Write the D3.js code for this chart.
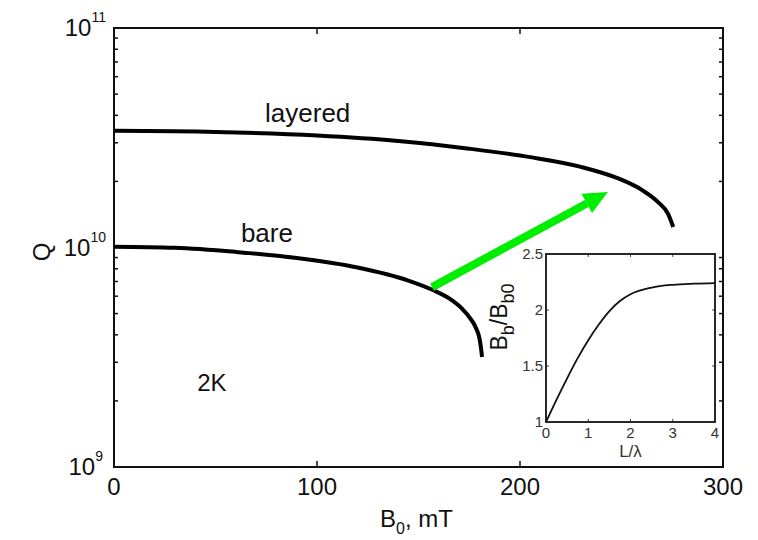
<!DOCTYPE html>
<html>
<head>
<meta charset="utf-8">
<script src="https://cdn.jsdelivr.net/npm/d3@7"></script>
<style>
  body { margin: 0; background: #fff; }
  text { font-family: "Liberation Sans", Arial, sans-serif; fill: #111; }
</style>
</head>
<body>
<div id="body"></div>
<script>
// main plot data: B0 (mT) vs Q
var layeredB = [0, 50, 100, 140, 175, 205, 230, 248, 260, 268, 273, 275.5];
var layeredQ = [3.40e10, 3.36e10, 3.24e10, 3.06e10, 2.82e10, 2.58e10, 2.33e10, 2.07e10, 1.83e10, 1.61e10, 1.42e10, 1.24e10];
var bareB = [0, 30, 60, 90, 120, 145, 157.1, 165.5, 171.4, 175.4, 178.3, 180.0, 180.8, 181.3];
var bareQ = [1.008e10, 9.97e9, 9.55e9, 8.96e9, 8.11e9, 7.07e9, 6.40e9, 5.83e9, 5.27e9, 4.77e9, 4.30e9, 3.87e9, 3.48e9, 3.17e9];
var xTicks = [0, 100, 200, 300];
var yExp = [9, 10, 11];

// inset data: Bb/Bb0 vs L/lambda
var insetL = [0, 0.25, 0.5, 0.75, 1.0, 1.25, 1.5, 1.75, 2.0, 2.5, 3.0, 3.5, 4.0];
var insetR = [1.0, 1.2, 1.39, 1.57, 1.73, 1.87, 1.99, 2.08, 2.14, 2.20, 2.225, 2.235, 2.24];
var insetXTicks = [0, 1, 2, 3, 4];
var insetYTicks = [1, 1.5, 2, 2.5];

// arrow annotation (data coords)
var arrowFrom = [156.7, 6.6e9], arrowTo = [243.3, 1.79e10];

var W = 758, H = 540;
var margin = {top: 28, right: 35, bottom: 73, left: 114},
    width = W - margin.left - margin.right,
    height = H - margin.top - margin.bottom;

var svg = d3.select("#body").append("svg")
    .attr("width", W).attr("height", H);
var g = svg.append("g")
    .attr("transform", "translate(" + margin.left + "," + margin.top + ")");

var x = d3.scaleLinear().domain([0, 300]).range([0, width]);
var y = d3.scaleLog().domain([1e9, 1e11]).range([height, 0]);

// minor log ticks, inward on left and right
var minor = [];
[1e9, 1e10].forEach(function(b) { for (var k = 2; k <= 9; k++) minor.push(b * k); });
g.selectAll(".mtl").data(minor).enter().append("line")
    .attr("x1", 0).attr("x2", 4)
    .attr("y1", d => y(d)).attr("y2", d => y(d))
    .attr("stroke", "#111").attr("stroke-width", 1.5);
g.selectAll(".mtr").data(minor).enter().append("line")
    .attr("x1", width).attr("x2", width - 4)
    .attr("y1", d => y(d)).attr("y2", d => y(d))
    .attr("stroke", "#111").attr("stroke-width", 1.5);
// x ticks inward top and bottom
g.selectAll(".xtb").data(xTicks.slice(1, 3)).enter().append("line")
    .attr("x1", d => x(d)).attr("x2", d => x(d))
    .attr("y1", height).attr("y2", height - 6)
    .attr("stroke", "#111").attr("stroke-width", 1.5);
g.selectAll(".xtt").data(xTicks.slice(1, 3)).enter().append("line")
    .attr("x1", d => x(d)).attr("x2", d => x(d))
    .attr("y1", 0).attr("y2", 6)
    .attr("stroke", "#111").attr("stroke-width", 1.5);

// frame
g.append("rect").attr("width", width).attr("height", height)
    .attr("fill", "none").attr("stroke", "#111").attr("stroke-width", 2);

// tick labels
g.selectAll(".xl").data(xTicks).enter().append("text")
    .attr("x", d => x(d)).attr("y", height + 28)
    .attr("text-anchor", "middle").style("font-size", "24px")
    .text(d => d);

var yl = g.selectAll(".yl").data(yExp).enter().append("text")
    .attr("x", d => d == 9 ? -11 : -8)
    .attr("y", d => y(Math.pow(10, d)) + 8)
    .attr("text-anchor", "end").style("font-size", "24px");
yl.append("tspan").text("10");
yl.append("tspan").attr("dy", -14).style("font-size", "14px").text(d => d);

// axis labels
var xlab = svg.append("text").attr("x", 380).attr("y", 527).style("font-size", "24px");
xlab.append("tspan").text("B");
xlab.append("tspan").attr("dy", 7).style("font-size", "16px").text("0");
xlab.append("tspan").attr("dy", -7).text(", mT");

svg.append("text").attr("transform", "translate(50,252) rotate(-90)")
    .attr("text-anchor", "middle").style("font-size", "24px").text("Q");

// curves
var line = d3.line()
    .x(d => x(d[0])).y(d => y(d[1]))
    .curve(d3.curveMonotoneX);
g.append("path").datum(d3.zip(layeredB, layeredQ))
    .attr("d", line).attr("fill", "none").attr("stroke", "#000").attr("stroke-width", 4);
g.append("path").datum(d3.zip(bareB, bareQ))
    .attr("d", line).attr("fill", "none").attr("stroke", "#000").attr("stroke-width", 4);

// curve labels
g.append("text").attr("x", x(74.4)).attr("y", y(3.73e10))
    .style("font-size", "26px").text("layered");
g.append("text").attr("x", x(62.5)).attr("y", y(1.06e10))
    .style("font-size", "26px").text("bare");
g.append("text").attr("x", x(41)).attr("y", y(2.23e9))
    .style("font-size", "24px").text("2K");

// green arrow
var ax1 = x(arrowFrom[0]), ay1 = y(arrowFrom[1]),
    ax2 = x(arrowTo[0]), ay2 = y(arrowTo[1]);
var ang = Math.atan2(ay2 - ay1, ax2 - ax1), hl = 24, hw = 11;
var bx = ax2 - hl * Math.cos(ang), by = ay2 - hl * Math.sin(ang);
g.append("line").attr("x1", ax1).attr("y1", ay1).attr("x2", bx).attr("y2", by)
    .attr("stroke", "#00ee00").attr("stroke-width", 8);
g.append("path")
    .attr("d", "M" + ax2 + "," + ay2 +
        "L" + (bx + hw * Math.sin(ang)) + "," + (by - hw * Math.cos(ang)) +
        "L" + (bx - hw * Math.sin(ang)) + "," + (by + hw * Math.cos(ang)) + "Z")
    .attr("fill", "#00ee00");

// inset
var ins = {left: 546, top: 254, w: 169, h: 168};
var gi = svg.append("g").attr("transform", "translate(" + ins.left + "," + ins.top + ")");
var xi = d3.scaleLinear().domain([0, 4]).range([0, ins.w]);
var yi = d3.scaleLinear().domain([1, 2.5]).range([ins.h, 0]);

gi.append("rect").attr("x", -ins.left + 520).attr("y", -6).attr("width", ins.w + 30).attr("height", ins.h + 10)
    .attr("fill", "#fff");
gi.selectAll(".ixt").data(insetXTicks.slice(1, 4)).enter().append("line")
    .attr("x1", d => xi(d)).attr("x2", d => xi(d)).attr("y1", 0).attr("y2", 3)
    .attr("stroke", "#444").attr("stroke-width", 1);
gi.selectAll(".ixb").data(insetXTicks.slice(1, 4)).enter().append("line")
    .attr("x1", d => xi(d)).attr("x2", d => xi(d)).attr("y1", ins.h).attr("y2", ins.h - 3)
    .attr("stroke", "#444").attr("stroke-width", 1);
gi.selectAll(".iyl").data(insetYTicks.slice(1, 3)).enter().append("line")
    .attr("x1", 0).attr("x2", 3).attr("y1", d => yi(d)).attr("y2", d => yi(d))
    .attr("stroke", "#444").attr("stroke-width", 1);
gi.selectAll(".iyr").data(insetYTicks.slice(1, 3)).enter().append("line")
    .attr("x1", ins.w).attr("x2", ins.w - 3).attr("y1", d => yi(d)).attr("y2", d => yi(d))
    .attr("stroke", "#444").attr("stroke-width", 1);
gi.append("rect").attr("width", ins.w).attr("height", ins.h)
    .attr("fill", "none").attr("stroke", "#111").attr("stroke-width", 1.8);

var iline = d3.line().x(d => xi(d[0])).y(d => yi(d[1])).curve(d3.curveMonotoneX);
gi.append("path").datum(d3.zip(insetL, insetR))
    .attr("d", iline).attr("fill", "none").attr("stroke", "#111").attr("stroke-width", 1.8);

gi.selectAll(".ixl").data(insetXTicks).enter().append("text")
    .attr("x", d => xi(d)).attr("y", ins.h + 16)
    .attr("text-anchor", "middle").style("font-size", "15px").style("fill", "#333")
    .text(d => d);
gi.selectAll(".iyl2").data(insetYTicks).enter().append("text")
    .attr("x", -3).attr("y", d => yi(d) + 5)
    .attr("text-anchor", "end").style("font-size", "15px").style("fill", "#333")
    .text(d => d);

gi.append("text").attr("x", xi(2)).attr("y", ins.h + 35)
    .attr("text-anchor", "middle").style("font-size", "17px").style("fill", "#333")
    .text("L/\u03bb");

var ylab = gi.append("text").attr("transform", "translate(-39,63) rotate(-90)")
    .attr("text-anchor", "middle").style("font-size", "23px");
ylab.append("tspan").text("B");
ylab.append("tspan").attr("dy", 7).style("font-size", "18px").text("b");
ylab.append("tspan").attr("dy", -7).text("/B");
ylab.append("tspan").attr("dy", 7).style("font-size", "18px").text("b0");
</script>
</body>
</html>
